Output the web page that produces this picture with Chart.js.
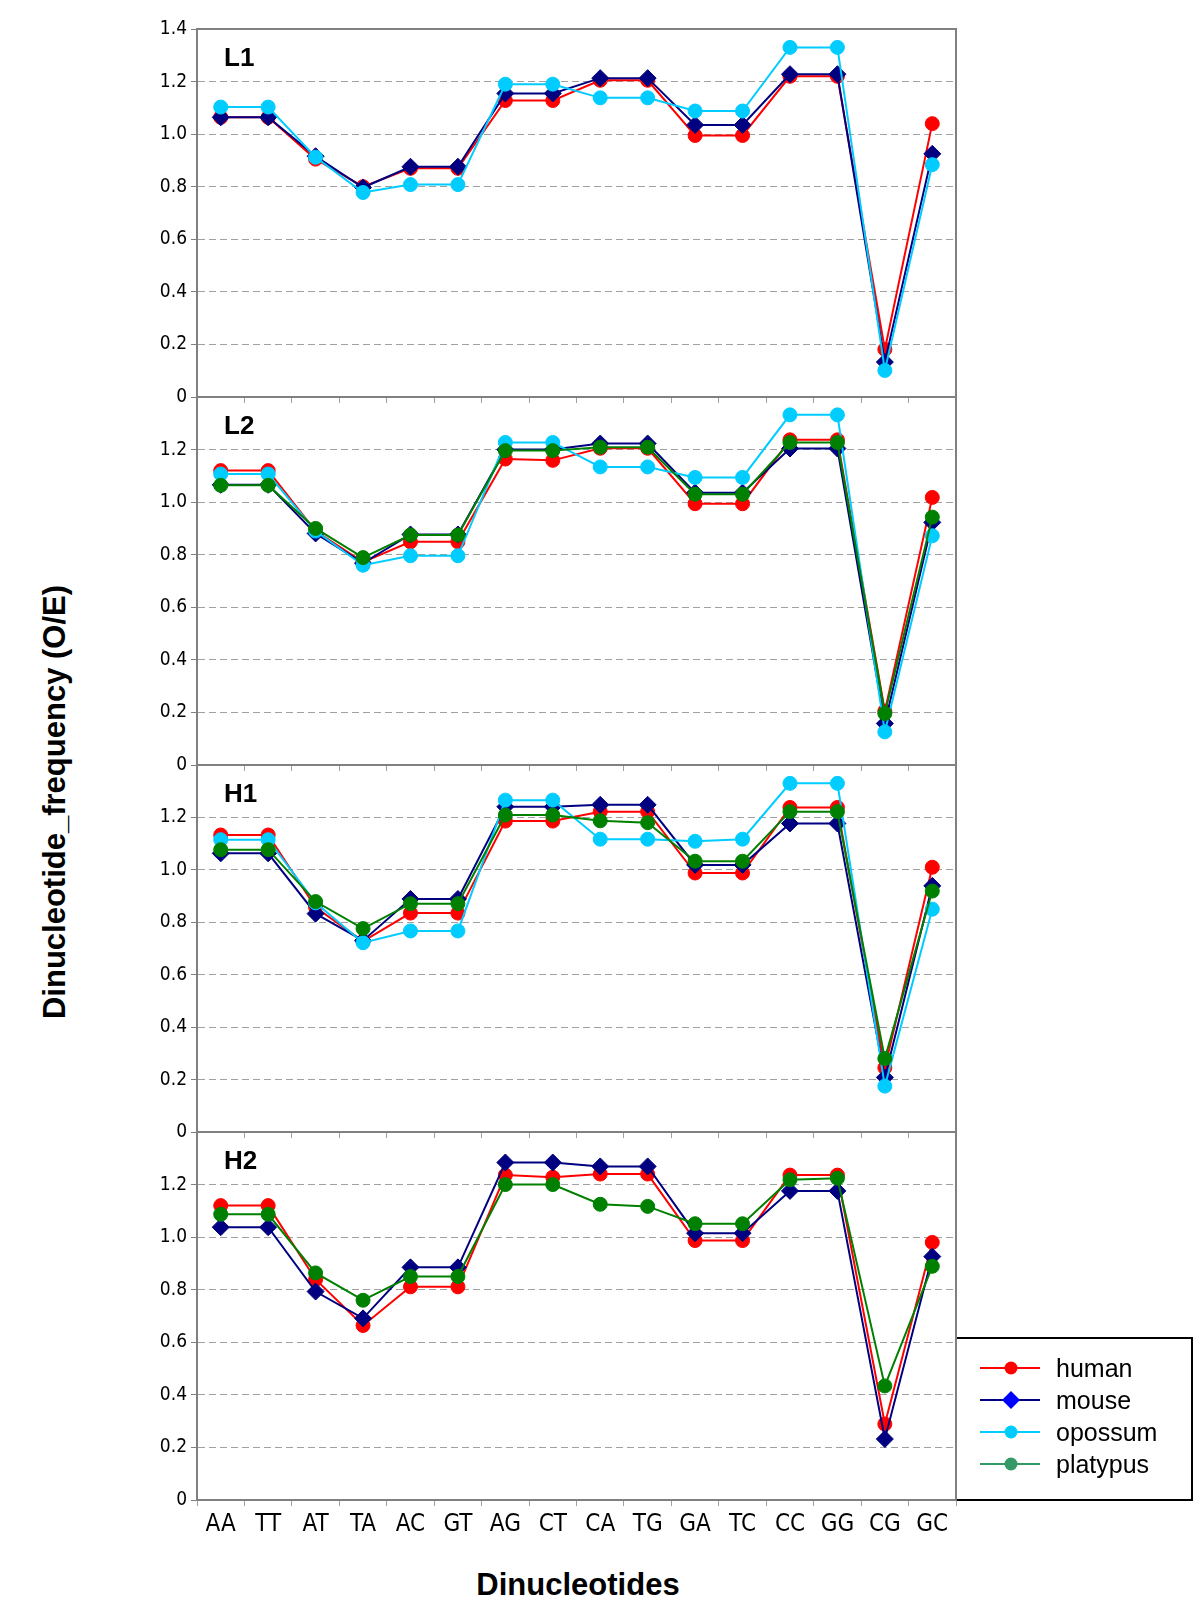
<!DOCTYPE html>
<html>
<head>
<meta charset="utf-8">
<script src="https://cdn.jsdelivr.net/npm/chart.js@4.4.1/dist/chart.umd.min.js"></script>
<style>
  html, body { margin: 0; padding: 0; background: #fff; }
  body { width: 1200px; height: 1599px; position: relative; overflow: hidden; font-family: 'Liberation Sans', Arial, sans-serif; color: #000; }
  canvas { position: absolute; left: 0; }
  .panel-label { position: absolute; left: 224px; font-weight: bold; font-size: 26px; line-height: 26px; }
  #ytitle { position: absolute; left: 54px; top: 802px; transform: translate(-50%, -50%) rotate(-90deg); font-weight: bold; font-size: 31px; line-height: 31px; white-space: nowrap; }
  #xtitle { position: absolute; left: 578px; top: 1569px; transform: translateX(-50%); font-weight: bold; font-size: 31px; line-height: 31px; white-space: nowrap; }
  #legend { position: absolute; left: 955px; top: 1337px; width: 238px; height: 164px; border: 2px solid #000; box-sizing: border-box; background: #fff; }
  .leg-text { position: absolute; left: 1056px; font-size: 25px; line-height: 32px; white-space: nowrap; }
  .leg-sym { position: absolute; left: 978px; }
</style>
</head>
<body>
<div id="ytitle">Dinucleotide_frequency (O/E)</div>
<div id="xtitle">Dinucleotides</div>
<div id="legend"></div>

<script>
// Categories (x axis)
const categories = ['AA', 'TT', 'AT', 'TA', 'AC', 'GT', 'AG', 'CT', 'CA', 'TG', 'GA', 'TC', 'CC', 'GG', 'CG', 'GC'];
const yTicks = [0, 0.2, 0.4, 0.6, 0.8, 1.0, 1.2, 1.4];

// L1
const human_L1   = [1.064, 1.064, 0.905, 0.800, 0.870, 0.870, 1.128, 1.128, 1.205, 1.205, 0.995, 0.995, 1.220, 1.220, 0.181, 1.040];
const mouse_L1   = [1.064, 1.064, 0.916, 0.797, 0.876, 0.876, 1.155, 1.155, 1.213, 1.213, 1.035, 1.035, 1.228, 1.228, 0.133, 0.925];
const opossum_L1 = [1.103, 1.103, 0.912, 0.778, 0.808, 0.808, 1.190, 1.190, 1.138, 1.138, 1.088, 1.088, 1.330, 1.330, 0.101, 0.884];

// L2
const human_L2    = [1.120, 1.120, 0.890, 0.772, 0.849, 0.849, 1.164, 1.159, 1.205, 1.205, 0.994, 0.994, 1.237, 1.237, 0.205, 1.018];
const mouse_L2    = [1.066, 1.066, 0.881, 0.768, 0.877, 0.877, 1.200, 1.200, 1.223, 1.223, 1.036, 1.036, 1.204, 1.204, 0.158, 0.923];
const opossum_L2  = [1.107, 1.107, 0.890, 0.760, 0.796, 0.796, 1.227, 1.227, 1.134, 1.134, 1.094, 1.094, 1.332, 1.332, 0.126, 0.872];
const platypus_L2 = [1.064, 1.064, 0.900, 0.789, 0.875, 0.875, 1.196, 1.196, 1.209, 1.209, 1.030, 1.030, 1.227, 1.227, 0.196, 0.943];

// H1
const human_H1    = [1.133, 1.133, 0.857, 0.727, 0.835, 0.835, 1.186, 1.186, 1.222, 1.222, 0.988, 0.988, 1.238, 1.238, 0.245, 1.010];
const mouse_H1    = [1.063, 1.063, 0.833, 0.730, 0.889, 0.889, 1.241, 1.241, 1.248, 1.248, 1.019, 1.019, 1.177, 1.177, 0.208, 0.939];
const opossum_H1  = [1.115, 1.115, 0.874, 0.722, 0.767, 0.767, 1.266, 1.266, 1.117, 1.117, 1.109, 1.117, 1.330, 1.330, 0.175, 0.850];
const platypus_H1 = [1.077, 1.077, 0.879, 0.776, 0.871, 0.871, 1.209, 1.209, 1.187, 1.180, 1.033, 1.033, 1.222, 1.222, 0.280, 0.919];

// H2
const human_H2    = [1.120, 1.120, 0.839, 0.664, 0.811, 0.811, 1.236, 1.228, 1.240, 1.240, 0.987, 0.987, 1.236, 1.236, 0.289, 0.980];
const mouse_H2    = [1.038, 1.038, 0.793, 0.691, 0.885, 0.885, 1.284, 1.284, 1.269, 1.269, 1.015, 1.015, 1.176, 1.176, 0.232, 0.926];
const platypus_H2 = [1.087, 1.087, 0.864, 0.760, 0.850, 0.850, 1.200, 1.200, 1.125, 1.117, 1.051, 1.051, 1.218, 1.224, 0.434, 0.889];

const panels = [
    { name: 'L1', series: { human: human_L1, mouse: mouse_L1, opossum: opossum_L1 } },
    { name: 'L2', series: { human: human_L2, mouse: mouse_L2, opossum: opossum_L2, platypus: platypus_L2 } },
    { name: 'H1', series: { human: human_H1, mouse: mouse_H1, opossum: opossum_H1, platypus: platypus_H1 } },
    { name: 'H2', series: { human: human_H2, mouse: mouse_H2, platypus: platypus_H2 } }
];

const speciesStyle = {
    human:    { color: '#ff0000', point: 'circle',  radius: 7,   order: 4 },
    mouse:    { color: '#000080', point: 'rectRot', radius: 8.5, order: 3 },
    opossum:  { color: '#00ccff', point: 'circle',  radius: 7,   order: 2 },
    platypus: { color: '#008000', point: 'circle',  radius: 7,   order: 1 }
};

const narrowFont = "'Liberation Sans Narrow', 'DejaVu Sans Condensed', Arial, sans-serif";
const panelTops = [29, 397, 765, 1132];
const panelBottom = 1500;
const padTop = 20;
const padBottom = 60;

// Grey frame around each plot area
const framePlugin = {
    id: 'frame',
    beforeDatasetsDraw(chart) {
        const { ctx, chartArea: a } = chart;
        ctx.save();
        ctx.strokeStyle = '#808080';
        ctx.lineWidth = 2;
        ctx.strokeRect(a.left, a.top, a.right - a.left, a.bottom - a.top);
        ctx.restore();
    }
};

panels.forEach((panel, i) => {
    const top = panelTops[i];
    const bottom = i < 3 ? panelTops[i + 1] : panelBottom;
    const isLast = i === panels.length - 1;

    const canvas = document.createElement('canvas');
    canvas.width = 1200;
    canvas.height = (bottom - top) + padTop + padBottom;
    canvas.style.top = (top - padTop) + 'px';
    document.body.appendChild(canvas);

    const label = document.createElement('div');
    label.className = 'panel-label';
    label.style.top = (top + 15) + 'px';
    label.textContent = panel.name;
    document.body.appendChild(label);

    const datasets = Object.keys(panel.series).map(sp => {
        const st = speciesStyle[sp];
        return {
            label: sp,
            data: panel.series[sp],
            borderColor: st.color,
            backgroundColor: st.color,
            borderWidth: 2,
            pointStyle: st.point,
            pointRadius: st.radius,
            pointBorderWidth: 1,
            pointBackgroundColor: st.color,
            pointBorderColor: st.color,
            order: st.order,
            tension: 0
        };
    });

    new Chart(canvas.getContext('2d'), {
        type: 'line',
        data: { labels: categories, datasets: datasets },
        options: {
            responsive: false,
            animation: false,
            layout: { padding: { top: padTop, left: 0, right: 244, bottom: 0 } },
            plugins: { legend: { display: false }, tooltip: { enabled: false } },
            scales: {
                x: {
                    type: 'category',
                    offset: true,
                    grid: {
                        display: true,
                        drawOnChartArea: false,
                        offset: true,
                        tickLength: 6,
                        color: '#a0a0a0'
                    },
                    border: { display: true, color: '#808080', width: 2 },
                    ticks: {
                        display: isLast,
                        autoSkip: false,
                        maxRotation: 0,
                        padding: 4,
                        color: '#000',
                        font: { family: narrowFont, size: 24 }
                    },
                    afterFit: (scale) => { scale.height = padBottom; }
                },
                y: {
                    min: yTicks[0],
                    max: yTicks[yTicks.length - 1],
                    afterBuildTicks: (scale) => { scale.ticks = yTicks.map(v => ({ value: v })); },
                    grid: {
                        drawTicks: true,
                        tickLength: 6,
                        tickColor: '#808080',
                        lineWidth: 1,
                        color: (c) => (c.tick && (c.tick.value < 0.01 || c.tick.value > 1.39)) ? 'rgba(0,0,0,0)' : '#a0a0a0'
                    },
                    border: { display: true, color: '#808080', width: 2, dash: [7, 4] },
                    ticks: {
                        padding: 4,
                        color: '#000',
                        font: { family: narrowFont, size: 19 },
                        callback: (v) => {
                            if (v > 1.39 && i > 0) return '';
                            return v === 0 ? '0' : v.toFixed(1);
                        }
                    },
                    afterFit: (scale) => { scale.width = 197; }
                }
            }
        },
        plugins: [framePlugin]
    });
});

// Legend
const legendItems = [
    { label: 'human',    line: '#ff0000', fill: '#ff0000', shape: 'circle' },
    { label: 'mouse',    line: '#000080', fill: '#0000ff', shape: 'diamond' },
    { label: 'opossum',  line: '#00ccff', fill: '#00ccff', shape: 'circle' },
    { label: 'platypus', line: '#339966', fill: '#339966', shape: 'circle' }
];

legendItems.forEach((item, k) => {
    const cy = 1368 + 32 * k;
    const svgNS = 'http://www.w3.org/2000/svg';
    const svg = document.createElementNS(svgNS, 'svg');
    svg.setAttribute('width', '66');
    svg.setAttribute('height', '24');
    svg.setAttribute('class', 'leg-sym');
    svg.style.top = (cy - 12) + 'px';
    const ln = document.createElementNS(svgNS, 'line');
    ln.setAttribute('x1', '2'); ln.setAttribute('x2', '62');
    ln.setAttribute('y1', '12'); ln.setAttribute('y2', '12');
    ln.setAttribute('stroke', item.line); ln.setAttribute('stroke-width', '2');
    svg.appendChild(ln);
    let mk;
    if (item.shape === 'circle') {
        mk = document.createElementNS(svgNS, 'circle');
        mk.setAttribute('cx', '33'); mk.setAttribute('cy', '12'); mk.setAttribute('r', '6.5');
    } else {
        mk = document.createElementNS(svgNS, 'polygon');
        mk.setAttribute('points', '33,3 42,12 33,21 24,12');
    }
    mk.setAttribute('fill', item.fill);
    svg.appendChild(mk);
    document.body.appendChild(svg);

    const txt = document.createElement('div');
    txt.className = 'leg-text';
    txt.style.top = (cy - 16) + 'px';
    txt.textContent = item.label;
    document.body.appendChild(txt);
});
</script>
</body>
</html>
